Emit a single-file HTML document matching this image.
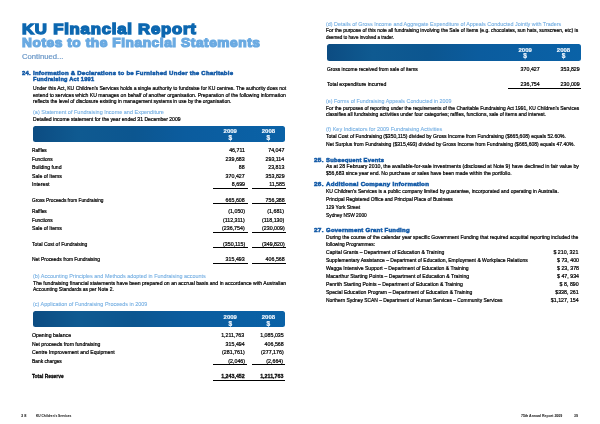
<!DOCTYPE html>
<html><head><meta charset="utf-8"><style>
*{margin:0;padding:0;box-sizing:border-box}
html,body{width:600px;height:424px;overflow:hidden;background:#fff}
body{position:relative;font-family:"Liberation Sans",sans-serif}
#pg{position:absolute;left:0;top:0;width:600px;height:424px;filter:blur(0.2px)}
div.t, .title1,.title2,.cont,.h,.sub,.b,.bb,.foot{position:absolute;white-space:nowrap}
.title1{font-weight:bold;color:#0c67b0;-webkit-text-stroke:1.35px #0c67b0;}
.title2{font-weight:bold;color:#6aaae2;-webkit-text-stroke:1.15px #6aaae2;}
.cont{font-weight:normal;color:#6b98c8;-webkit-text-stroke:0.2px #6b98c8;}
.h{font-weight:bold;color:#165ca8;-webkit-text-stroke:0.55px #165ca8;}
.sub{font-weight:normal;color:#74aee2;-webkit-text-stroke:0.1px #74aee2;}
.b{font-weight:normal;color:#000;-webkit-text-stroke:0.24px #000;}
.bb{font-weight:bold;color:#000;-webkit-text-stroke:0.28px #000;}
.foot{font-weight:bold;color:#222;-webkit-text-stroke:0.05px #222;}

.title1{letter-spacing:0.7px}.title2{letter-spacing:0.5px}.h{letter-spacing:0.25px}
.bar{position:absolute;border-radius:2.5px;background:linear-gradient(90deg,#0c4c82 0%,#0f5a91 18%,#0c5690 40%,#0b5c9e 60%,#0a62a7 100%)}
.bar .y,.bar .d{position:absolute;color:#f2f8ff;-webkit-text-stroke:0.15px #f2f8ff;font-weight:bold;font-size:6px;line-height:6px;white-space:nowrap;text-align:center}
.rule{position:absolute;height:1.1px;background:#000}
</style></head>
<body><div id="pg">
<div class="bar" style="left:32.5px;top:125.7px;width:252.40px;height:16.00px"><div class="y" style="left:187.80px;width:20px;top:2.6px">2009</div><div class="d" style="left:187.80px;width:20px;top:9.3px;font-size:6.6px;line-height:6.6px">$</div><div class="y" style="left:225.90px;width:20px;top:2.6px">2008</div><div class="d" style="left:225.90px;width:20px;top:9.3px;font-size:6.6px;line-height:6.6px">$</div></div><div class="bar" style="left:32.5px;top:311.3px;width:252.40px;height:15.90px"><div class="y" style="left:187.80px;width:20px;top:2.6px">2009</div><div class="d" style="left:187.80px;width:20px;top:9.3px;font-size:6.6px;line-height:6.6px">$</div><div class="y" style="left:225.90px;width:20px;top:2.6px">2008</div><div class="d" style="left:225.90px;width:20px;top:9.3px;font-size:6.6px;line-height:6.6px">$</div></div><div class="bar" style="left:327.3px;top:44.1px;width:253.30px;height:16.50px"><div class="y" style="left:187.90px;width:20px;top:2.6px">2009</div><div class="d" style="left:187.90px;width:20px;top:9.3px;font-size:6.6px;line-height:6.6px">$</div><div class="y" style="left:226.20px;width:20px;top:2.6px">2008</div><div class="d" style="left:226.20px;width:20px;top:9.3px;font-size:6.6px;line-height:6.6px">$</div></div>
<div class="rule" style="left:212.5px;top:187.75px;width:35.00px"></div><div class="rule" style="left:251.5px;top:187.75px;width:34.10px"></div><div class="rule" style="left:212.5px;top:202.55px;width:35.00px"></div><div class="rule" style="left:251.5px;top:202.55px;width:34.10px"></div><div class="rule" style="left:212.5px;top:232.05px;width:35.00px"></div><div class="rule" style="left:251.5px;top:232.05px;width:34.10px"></div><div class="rule" style="left:212.5px;top:247.05px;width:35.00px"></div><div class="rule" style="left:251.5px;top:247.05px;width:34.10px"></div><div class="rule" style="left:212.5px;top:262.75px;width:35.00px"></div><div class="rule" style="left:251.5px;top:262.75px;width:34.10px"></div><div class="rule" style="left:212.7px;top:364.05px;width:34.50px"></div><div class="rule" style="left:251.7px;top:364.05px;width:33.80px"></div><div class="rule" style="left:212.7px;top:379.75px;width:72.80px"></div><div class="rule" style="left:507.5px;top:88.25px;width:73.30px"></div>
<div id="t0" class="title1" style="top:21.60px;font-size:14.8px;line-height:14.8px;left:22.00px;transform-origin:0 50%;transform:scaleX(1.1290);">KU Financial Report</div>
<div id="t1" class="title2" style="top:36.90px;font-size:12.4px;line-height:12.4px;left:22.00px;transform-origin:0 50%;transform:scaleX(1.1070);">Notes to the Financial Statements</div>
<div id="t2" class="cont" style="top:53.35px;font-size:7.5px;line-height:7.5px;left:22.00px;transform-origin:0 50%;transform:scaleX(1.0250);">Continued...</div>
<div id="t3" class="h" style="top:69.90px;font-size:6.2px;line-height:6.2px;left:22.00px;transform-origin:0 50%;transform:scaleX(0.9444);">24.</div>
<div id="t4" class="h" style="top:69.90px;font-size:6.2px;line-height:6.2px;left:33.00px;transform-origin:0 50%;transform:scaleX(0.9745);">Information &amp; Declarations to be Furnished Under the Charitable</div>
<div id="t5" class="h" style="top:75.90px;font-size:6.2px;line-height:6.2px;left:33.00px;transform-origin:0 50%;transform:scaleX(0.9104);">Fundraising Act 1991</div>
<div id="t6" class="b" style="top:85.10px;font-size:6.0px;line-height:6.0px;left:33.00px;transform-origin:0 50%;transform:scaleX(0.8414);">Under this Act, KU Children’s Services holds a single authority to fundraise for KU centres. The authority does not</div>
<div id="t7" class="b" style="top:92.20px;font-size:6.0px;line-height:6.0px;left:33.00px;transform-origin:0 50%;transform:scaleX(0.8470);">extend to services which KU manages on behalf of another organisation. Preparation of the following information</div>
<div id="t8" class="b" style="top:98.10px;font-size:6.0px;line-height:6.0px;left:33.00px;transform-origin:0 50%;transform:scaleX(0.8295);">reflects the level of disclosure existing in management systems in use by the organisation.</div>
<div id="t9" class="sub" style="top:109.60px;font-size:5.9px;line-height:5.9px;left:33.00px;transform-origin:0 50%;transform:scaleX(0.9339);">(a) Statement of Fundraising Income and Expenditure</div>
<div id="t10" class="b" style="top:115.95px;font-size:6.0px;line-height:6.0px;left:33.00px;transform-origin:0 50%;transform:scaleX(0.8477);">Detailed income statement for the year ended 31 December 2009</div>
<div id="t11" class="b" style="top:147.20px;font-size:6.0px;line-height:6.0px;left:32.00px;transform-origin:0 50%;transform:scaleX(0.7947);">Raffles</div>
<div id="t12" class="b" style="top:147.20px;font-size:6.0px;line-height:6.0px;right:355.00px;transform-origin:100% 50%;transform:scaleX(0.8800);">46,711</div>
<div id="t13" class="b" style="top:147.20px;font-size:6.0px;line-height:6.0px;right:315.50px;transform-origin:100% 50%;transform:scaleX(0.8800);">74,047</div>
<div id="t14" class="b" style="top:156.20px;font-size:6.0px;line-height:6.0px;left:32.00px;transform-origin:0 50%;transform:scaleX(0.7923);">Functions</div>
<div id="t15" class="b" style="top:156.20px;font-size:6.0px;line-height:6.0px;right:355.00px;transform-origin:100% 50%;transform:scaleX(0.8800);">239,683</div>
<div id="t16" class="b" style="top:156.20px;font-size:6.0px;line-height:6.0px;right:315.50px;transform-origin:100% 50%;transform:scaleX(0.8800);">293,114</div>
<div id="t17" class="b" style="top:164.20px;font-size:6.0px;line-height:6.0px;left:32.00px;transform-origin:0 50%;transform:scaleX(0.8514);">Building fund</div>
<div id="t18" class="b" style="top:164.20px;font-size:6.0px;line-height:6.0px;right:355.00px;transform-origin:100% 50%;transform:scaleX(0.8800);">88</div>
<div id="t19" class="b" style="top:164.20px;font-size:6.0px;line-height:6.0px;right:315.50px;transform-origin:100% 50%;transform:scaleX(0.8800);">23,813</div>
<div id="t20" class="b" style="top:172.95px;font-size:6.0px;line-height:6.0px;left:32.00px;transform-origin:0 50%;transform:scaleX(0.8514);">Sale of Items</div>
<div id="t21" class="b" style="top:172.95px;font-size:6.0px;line-height:6.0px;right:355.00px;transform-origin:100% 50%;transform:scaleX(0.8800);">370,427</div>
<div id="t22" class="b" style="top:172.95px;font-size:6.0px;line-height:6.0px;right:315.50px;transform-origin:100% 50%;transform:scaleX(0.8800);">353,829</div>
<div id="t23" class="b" style="top:181.20px;font-size:6.0px;line-height:6.0px;left:32.00px;transform-origin:0 50%;transform:scaleX(0.8750);">Interest</div>
<div id="t24" class="b" style="top:181.20px;font-size:6.0px;line-height:6.0px;right:355.00px;transform-origin:100% 50%;transform:scaleX(0.8800);">8,699</div>
<div id="t25" class="b" style="top:181.20px;font-size:6.0px;line-height:6.0px;right:315.50px;transform-origin:100% 50%;transform:scaleX(0.8800);">11,585</div>
<div id="t26" class="b" style="top:197.20px;font-size:6.0px;line-height:6.0px;left:32.00px;transform-origin:0 50%;transform:scaleX(0.7972);">Gross Proceeds from Fundraising</div>
<div id="t27" class="b" style="top:197.20px;font-size:6.0px;line-height:6.0px;right:355.00px;transform-origin:100% 50%;transform:scaleX(0.8800);">665,608</div>
<div id="t28" class="b" style="top:197.20px;font-size:6.0px;line-height:6.0px;right:315.50px;transform-origin:100% 50%;transform:scaleX(0.8800);">756,388</div>
<div id="t29" class="b" style="top:208.20px;font-size:6.0px;line-height:6.0px;left:32.00px;transform-origin:0 50%;transform:scaleX(0.7947);">Raffles</div>
<div id="t30" class="b" style="top:208.20px;font-size:6.0px;line-height:6.0px;right:355.00px;transform-origin:100% 50%;transform:scaleX(0.8800);">(1,050)</div>
<div id="t31" class="b" style="top:208.20px;font-size:6.0px;line-height:6.0px;right:315.50px;transform-origin:100% 50%;transform:scaleX(0.8800);">(1,681)</div>
<div id="t32" class="b" style="top:217.20px;font-size:6.0px;line-height:6.0px;left:32.00px;transform-origin:0 50%;transform:scaleX(0.7923);">Functions</div>
<div id="t33" class="b" style="top:217.20px;font-size:6.0px;line-height:6.0px;right:355.00px;transform-origin:100% 50%;transform:scaleX(0.8800);">(112,311)</div>
<div id="t34" class="b" style="top:217.20px;font-size:6.0px;line-height:6.0px;right:315.50px;transform-origin:100% 50%;transform:scaleX(0.8800);">(118,130)</div>
<div id="t35" class="b" style="top:225.20px;font-size:6.0px;line-height:6.0px;left:32.00px;transform-origin:0 50%;transform:scaleX(0.8514);">Sale of Items</div>
<div id="t36" class="b" style="top:225.20px;font-size:6.0px;line-height:6.0px;right:355.00px;transform-origin:100% 50%;transform:scaleX(0.8800);">(236,754)</div>
<div id="t37" class="b" style="top:225.20px;font-size:6.0px;line-height:6.0px;right:315.50px;transform-origin:100% 50%;transform:scaleX(0.8800);">(230,009)</div>
<div id="t38" class="b" style="top:240.95px;font-size:6.0px;line-height:6.0px;left:32.00px;transform-origin:0 50%;transform:scaleX(0.8333);">Total Cost of Fundraising</div>
<div id="t39" class="b" style="top:240.95px;font-size:6.0px;line-height:6.0px;right:355.00px;transform-origin:100% 50%;transform:scaleX(0.8800);">(350,115)</div>
<div id="t40" class="b" style="top:240.95px;font-size:6.0px;line-height:6.0px;right:315.50px;transform-origin:100% 50%;transform:scaleX(0.8800);">(349,820)</div>
<div id="t41" class="b" style="top:255.95px;font-size:6.0px;line-height:6.0px;left:32.00px;transform-origin:0 50%;transform:scaleX(0.8193);">Net Proceeds from Fundraising</div>
<div id="t42" class="b" style="top:255.95px;font-size:6.0px;line-height:6.0px;right:355.00px;transform-origin:100% 50%;transform:scaleX(0.8800);">315,493</div>
<div id="t43" class="b" style="top:255.95px;font-size:6.0px;line-height:6.0px;right:315.50px;transform-origin:100% 50%;transform:scaleX(0.8800);">406,568</div>
<div id="t44" class="sub" style="top:274.10px;font-size:5.9px;line-height:5.9px;left:33.00px;transform-origin:0 50%;transform:scaleX(0.9225);">(b) Accounting Principles and Methods adopted in Fundraising accounts</div>
<div id="t45" class="b" style="top:280.20px;font-size:6.0px;line-height:6.0px;left:33.00px;transform-origin:0 50%;transform:scaleX(0.8556);">The fundraising financial statements have been prepared on an accrual basis and in accordance with Australian</div>
<div id="t46" class="b" style="top:286.45px;font-size:6.0px;line-height:6.0px;left:33.00px;transform-origin:0 50%;transform:scaleX(0.8240);">Accounting Standards as per Note 2.</div>
<div id="t47" class="sub" style="top:302.10px;font-size:5.9px;line-height:5.9px;left:33.00px;transform-origin:0 50%;transform:scaleX(0.9268);">(c) Application of Fundraising Proceeds in 2009</div>
<div id="t48" class="b" style="top:332.40px;font-size:6.0px;line-height:6.0px;left:32.00px;transform-origin:0 50%;transform:scaleX(0.8611);">Opening balance</div>
<div id="t49" class="b" style="top:332.40px;font-size:6.0px;line-height:6.0px;right:355.30px;transform-origin:100% 50%;transform:scaleX(0.8800);">1,211,763</div>
<div id="t50" class="b" style="top:332.40px;font-size:6.0px;line-height:6.0px;right:316.50px;transform-origin:100% 50%;transform:scaleX(0.8800);">1,085,035</div>
<div id="t51" class="b" style="top:341.40px;font-size:6.0px;line-height:6.0px;left:32.00px;transform-origin:0 50%;transform:scaleX(0.8500);">Net proceeds from fundraising</div>
<div id="t52" class="b" style="top:341.40px;font-size:6.0px;line-height:6.0px;right:355.30px;transform-origin:100% 50%;transform:scaleX(0.8800);">315,494</div>
<div id="t53" class="b" style="top:341.40px;font-size:6.0px;line-height:6.0px;right:316.50px;transform-origin:100% 50%;transform:scaleX(0.8800);">406,568</div>
<div id="t54" class="b" style="top:349.40px;font-size:6.0px;line-height:6.0px;left:32.00px;transform-origin:0 50%;transform:scaleX(0.8557);">Centre Improvement and Equipment</div>
<div id="t55" class="b" style="top:349.40px;font-size:6.0px;line-height:6.0px;right:355.30px;transform-origin:100% 50%;transform:scaleX(0.8800);">(281,761)</div>
<div id="t56" class="b" style="top:349.40px;font-size:6.0px;line-height:6.0px;right:316.50px;transform-origin:100% 50%;transform:scaleX(0.8800);">(277,176)</div>
<div id="t57" class="b" style="top:357.90px;font-size:6.0px;line-height:6.0px;left:32.00px;transform-origin:0 50%;transform:scaleX(0.8108);">Bank charges</div>
<div id="t58" class="b" style="top:357.90px;font-size:6.0px;line-height:6.0px;right:355.30px;transform-origin:100% 50%;transform:scaleX(0.8800);">(2,046)</div>
<div id="t59" class="b" style="top:357.90px;font-size:6.0px;line-height:6.0px;right:316.50px;transform-origin:100% 50%;transform:scaleX(0.8800);">(2,664)</div>
<div id="t60" class="bb" style="top:373.20px;font-size:6.0px;line-height:6.0px;left:32.00px;transform-origin:0 50%;transform:scaleX(0.8141);">Total Reserve</div>
<div id="t61" class="bb" style="top:372.90px;font-size:6.0px;line-height:6.0px;right:355.30px;transform-origin:100% 50%;transform:scaleX(0.8800);">1,243,452</div>
<div id="t62" class="bb" style="top:372.90px;font-size:6.0px;line-height:6.0px;right:316.50px;transform-origin:100% 50%;transform:scaleX(0.8800);">1,211,763</div>
<div id="t63" class="foot" style="top:413.80px;font-size:4.4px;line-height:4.4px;left:21.00px;transform-origin:0 50%;transform:scaleX(0.9000);">3 8</div>
<div id="t64" class="foot" style="top:413.80px;font-size:4.4px;line-height:4.4px;left:35.60px;transform-origin:0 50%;transform:scaleX(0.7333);">KU Children’s Services</div>
<div id="t65" class="sub" style="top:22.10px;font-size:5.9px;line-height:5.9px;left:325.75px;transform-origin:0 50%;transform:scaleX(0.9189);">(d) Details of Gross Income and Aggregate Expenditure of Appeals Conducted Jointly with Traders</div>
<div id="t66" class="b" style="top:26.80px;font-size:6.0px;line-height:6.0px;left:326.00px;transform-origin:0 50%;transform:scaleX(0.8289);">For the purpose of this note all fundraising involving the Sale of Items (e.g. chocolates, sun hats, sunscreen, etc) is</div>
<div id="t67" class="b" style="top:34.20px;font-size:6.0px;line-height:6.0px;left:326.00px;transform-origin:0 50%;transform:scaleX(0.7528);">deemed to have involved a trader.</div>
<div id="t68" class="b" style="top:65.90px;font-size:6.0px;line-height:6.0px;left:327.00px;transform-origin:0 50%;transform:scaleX(0.8227);">Gross income received from sale of items</div>
<div id="t69" class="b" style="top:65.90px;font-size:6.0px;line-height:6.0px;right:60.30px;transform-origin:100% 50%;transform:scaleX(0.8800);">370,427</div>
<div id="t70" class="b" style="top:65.90px;font-size:6.0px;line-height:6.0px;right:20.80px;transform-origin:100% 50%;transform:scaleX(0.8800);">353,829</div>
<div id="t71" class="b" style="top:81.40px;font-size:6.0px;line-height:6.0px;left:327.00px;transform-origin:0 50%;transform:scaleX(0.8587);">Total expenditure incurred</div>
<div id="t72" class="b" style="top:81.40px;font-size:6.0px;line-height:6.0px;right:60.30px;transform-origin:100% 50%;transform:scaleX(0.8800);">236,754</div>
<div id="t73" class="b" style="top:81.40px;font-size:6.0px;line-height:6.0px;right:20.80px;transform-origin:100% 50%;transform:scaleX(0.8800);">230,009</div>
<div id="t74" class="sub" style="top:99.10px;font-size:5.9px;line-height:5.9px;left:326.00px;transform-origin:0 50%;transform:scaleX(0.9076);">(e) Forms of Fundraising Appeals Conducted in 2009</div>
<div id="t75" class="b" style="top:105.20px;font-size:6.0px;line-height:6.0px;left:326.00px;transform-origin:0 50%;transform:scaleX(0.8180);">For the purposes of reporting under the requirements of the Charitable Fundraising Act 1991, KU Children’s Services</div>
<div id="t76" class="b" style="top:111.45px;font-size:6.0px;line-height:6.0px;left:326.00px;transform-origin:0 50%;transform:scaleX(0.8311);">classifies all fundraising activities under four categories; raffles, functions, sale of items and interest.</div>
<div id="t77" class="sub" style="top:127.10px;font-size:5.9px;line-height:5.9px;left:326.00px;transform-origin:0 50%;transform:scaleX(0.9320);">(f) Key Indicators for 2009 Fundraising Activities</div>
<div id="t78" class="b" style="top:133.45px;font-size:6.0px;line-height:6.0px;left:326.00px;transform-origin:0 50%;transform:scaleX(0.8430);">Total Cost of Fundraising ($350,115) divided by Gross Income from Fundraising ($665,608) equals 52.60%.</div>
<div id="t79" class="b" style="top:140.95px;font-size:6.0px;line-height:6.0px;left:326.00px;transform-origin:0 50%;transform:scaleX(0.8384);">Net Surplus from Fundraising ($315,493) divided by Gross Income from Fundraising ($665,608) equals 47.40%.</div>
<div id="t80" class="h" style="top:156.85px;font-size:6.2px;line-height:6.2px;left:314.30px;transform-origin:0 50%;transform:scaleX(1.0444);">25.</div>
<div id="t81" class="h" style="top:156.85px;font-size:6.2px;line-height:6.2px;left:326.00px;transform-origin:0 50%;transform:scaleX(0.9435);">Subsequent Events</div>
<div id="t82" class="b" style="top:162.90px;font-size:6.0px;line-height:6.0px;left:326.00px;transform-origin:0 50%;transform:scaleX(0.8686);">As at 28 February 2010, the available-for-sale investments (disclosed at Note 9) have declined in fair value by</div>
<div id="t83" class="b" style="top:170.40px;font-size:6.0px;line-height:6.0px;left:326.00px;transform-origin:0 50%;transform:scaleX(0.8420);">$56,683 since year end. No purchase or sales have been made within the portfolio.</div>
<div id="t84" class="h" style="top:180.90px;font-size:6.2px;line-height:6.2px;left:314.30px;transform-origin:0 50%;transform:scaleX(1.0444);">26.</div>
<div id="t85" class="h" style="top:180.90px;font-size:6.2px;line-height:6.2px;left:326.00px;transform-origin:0 50%;transform:scaleX(0.9976);">Additional Company Information</div>
<div id="t86" class="b" style="top:188.20px;font-size:6.0px;line-height:6.0px;left:326.00px;transform-origin:0 50%;transform:scaleX(0.8342);">KU Children’s Services is a public company limited by guarantee, incorporated and operating in Australia.</div>
<div id="t87" class="b" style="top:196.45px;font-size:6.0px;line-height:6.0px;left:326.00px;transform-origin:0 50%;transform:scaleX(0.8089);">Principal Registered Office and Principal Place of Business</div>
<div id="t88" class="b" style="top:204.20px;font-size:6.0px;line-height:6.0px;left:326.00px;transform-origin:0 50%;transform:scaleX(0.8293);">129 York Street</div>
<div id="t89" class="b" style="top:212.20px;font-size:6.0px;line-height:6.0px;left:326.00px;transform-origin:0 50%;transform:scaleX(0.8039);">Sydney NSW 2000</div>
<div id="t90" class="h" style="top:226.60px;font-size:6.2px;line-height:6.2px;left:314.30px;transform-origin:0 50%;transform:scaleX(1.0444);">27.</div>
<div id="t91" class="h" style="top:226.60px;font-size:6.2px;line-height:6.2px;left:326.00px;transform-origin:0 50%;transform:scaleX(0.9655);">Government Grant Funding</div>
<div id="t92" class="b" style="top:234.20px;font-size:6.0px;line-height:6.0px;left:326.00px;transform-origin:0 50%;transform:scaleX(0.8397);">During the course of the calendar year specific Government Funding that required acquittal reporting included the</div>
<div id="t93" class="b" style="top:241.45px;font-size:6.0px;line-height:6.0px;left:326.00px;transform-origin:0 50%;transform:scaleX(0.8033);">following Programmes:</div>
<div id="t94" class="b" style="top:249.20px;font-size:6.0px;line-height:6.0px;left:326.00px;transform-origin:0 50%;transform:scaleX(0.8446);">Capital Grants – Department of Education &amp; Training</div>
<div id="t95" class="b" style="top:249.20px;font-size:6.0px;line-height:6.0px;right:21.25px;transform-origin:100% 50%;transform:scaleX(0.8800);">$ 210, 321</div>
<div id="t96" class="b" style="top:257.00px;font-size:6.0px;line-height:6.0px;left:326.00px;transform-origin:0 50%;transform:scaleX(0.8313);">Supplementary Assistance – Department of Education, Employment &amp; Workplace Relations</div>
<div id="t97" class="b" style="top:257.00px;font-size:6.0px;line-height:6.0px;right:21.25px;transform-origin:100% 50%;transform:scaleX(0.8800);">$ 73, 400</div>
<div id="t98" class="b" style="top:265.45px;font-size:6.0px;line-height:6.0px;left:326.00px;transform-origin:0 50%;transform:scaleX(0.8447);">Wagga Intensive Support – Department of Education &amp; Training</div>
<div id="t99" class="b" style="top:265.45px;font-size:6.0px;line-height:6.0px;right:21.25px;transform-origin:100% 50%;transform:scaleX(0.8800);">$ 23, 378</div>
<div id="t100" class="b" style="top:272.95px;font-size:6.0px;line-height:6.0px;left:326.00px;transform-origin:0 50%;transform:scaleX(0.8447);">Macarthur Starting Points – Department of Education &amp; Training</div>
<div id="t101" class="b" style="top:272.95px;font-size:6.0px;line-height:6.0px;right:21.25px;transform-origin:100% 50%;transform:scaleX(0.8800);">$ 47, 934</div>
<div id="t102" class="b" style="top:280.95px;font-size:6.0px;line-height:6.0px;left:326.00px;transform-origin:0 50%;transform:scaleX(0.8478);">Penrith Starting Points – Department of Education &amp; Training</div>
<div id="t103" class="b" style="top:280.95px;font-size:6.0px;line-height:6.0px;right:21.25px;transform-origin:100% 50%;transform:scaleX(0.8800);">$ 8, 890</div>
<div id="t104" class="b" style="top:289.20px;font-size:6.0px;line-height:6.0px;left:326.00px;transform-origin:0 50%;transform:scaleX(0.8391);">Special Education Program – Department of Education &amp; Training</div>
<div id="t105" class="b" style="top:289.20px;font-size:6.0px;line-height:6.0px;right:21.25px;transform-origin:100% 50%;transform:scaleX(0.8800);">$338, 261</div>
<div id="t106" class="b" style="top:297.20px;font-size:6.0px;line-height:6.0px;left:326.00px;transform-origin:0 50%;transform:scaleX(0.8186);">Northern Sydney SCAN – Department of Human Services – Community Services</div>
<div id="t107" class="b" style="top:297.20px;font-size:6.0px;line-height:6.0px;right:21.25px;transform-origin:100% 50%;transform:scaleX(0.8800);">$1,127, 154</div>
<div id="t108" class="foot" style="top:413.80px;font-size:4.4px;line-height:4.4px;left:520.75px;transform-origin:0 50%;transform:scaleX(0.8039);">75th Annual Report 2009</div>
<div id="t109" class="foot" style="top:413.80px;font-size:4.4px;line-height:4.4px;left:574.00px;transform-origin:0 50%;transform:scaleX(0.8000);">39</div>
</div></body></html>
